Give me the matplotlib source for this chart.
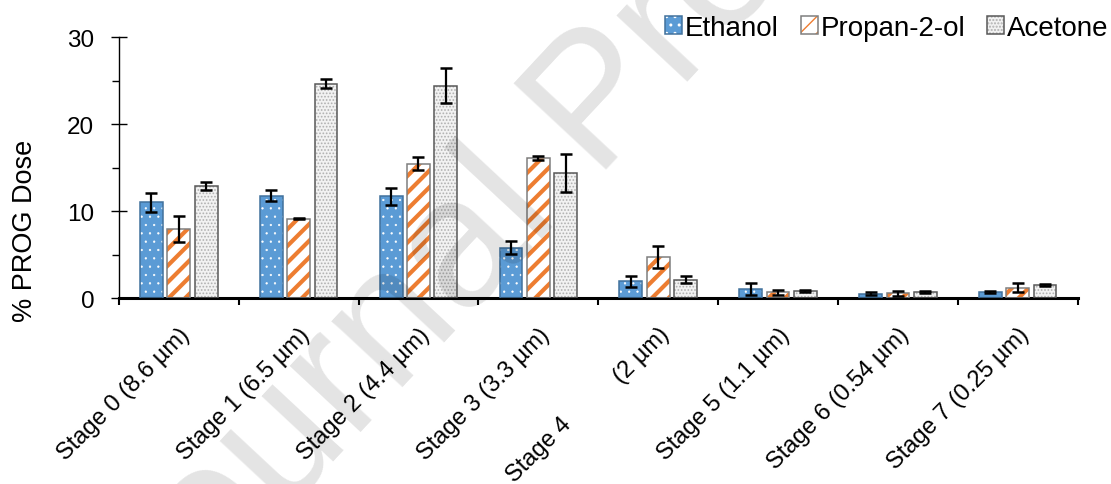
import matplotlib
matplotlib.use("Agg")
import matplotlib.pyplot as plt
import numpy as np

plt.rcParams['font.family'] = ['Liberation Sans', 'DejaVu Sans']

# data
stages = ['Stage 0 (8.6 µm)', 'Stage 1 (6.5 µm)', 'Stage 2 (4.4 µm)', 'Stage 3 (3.3 µm)',
          '(2 µm)', 'Stage 5 (1.1 µm)', 'Stage 6 (0.54 µm)', 'Stage 7 (0.25 µm)']
ethanol = [11.0, 11.75, 11.7, 5.8, 1.9, 1.05, 0.5, 0.7]
ethanol_err = [1.1, 0.65, 1.0, 0.7, 0.65, 0.7, 0.15, 0.1]
propanol = [7.95, 9.1, 15.45, 16.1, 4.7, 0.65, 0.55, 1.2]
propanol_err = [1.5, 0.05, 0.75, 0.2, 1.25, 0.3, 0.3, 0.55]
acetone = [12.85, 24.65, 24.4, 14.4, 2.1, 0.8, 0.72, 1.5]
acetone_err = [0.45, 0.5, 2.0, 2.2, 0.4, 0.1, 0.1, 0.1]

fig = plt.figure(figsize=(11.11, 4.85), dpi=100)
ax = fig.add_axes([0.107, 0.3835, 0.863, 0.538])

x = np.arange(len(stages))
w = 0.19
off = 0.228

series = [
    # label, values, errors, face, hatch, hatch colour, edge, hatch lw
    ('Ethanol', ethanol, ethanol_err, '#5b9bd5', '..', 'white', '#41719c', 0.4),
    ('Propan-2-ol', propanol, propanol_err, 'white', '//', '#ed7d31', '#7f7f7f', 3.0),
    ('Acetone', acetone, acetone_err, '#f2f2f2', '.....', '#b0b0b0', '#595959', 0.8),
]

handles = []
for i, (lab, vals, errs, fc, hatch, hc, ec, hlw) in enumerate(series):
    pos = x + (i - 1) * off
    with plt.rc_context({'hatch.linewidth': hlw}):
        fill = ax.bar(pos, vals, w, color=fc, hatch=hatch, edgecolor=hc, linewidth=0, zorder=2)
    edge = ax.bar(pos, vals, w, fill=False, edgecolor=ec, linewidth=1.1, zorder=3)
    ax.errorbar(pos, vals, yerr=errs, fmt='none', ecolor='black', elinewidth=1.6,
                capsize=4.5, capthick=1.8, zorder=4)
    handles.append((fill.patches[0], edge.patches[0]))

ax.set_xlim(-0.5, len(stages) - 0.5)
ax.set_ylim(0, 30)
ax.set_yticks([0, 10, 20, 30])
ax.set_yticks([5, 15, 25], minor=True)
ax.tick_params(axis='y', which='major', direction='inout', length=11.5, width=1,
               labelsize=17.5, pad=12)
ax.tick_params(axis='y', which='minor', direction='out', length=5, width=1)

# category boundaries as ticks, names centred between them
ax.set_xticks(np.arange(len(stages) + 1) - 0.5)
ax.set_xticklabels([])
ax.set_xticks(x, minor=True)
ax.set_xticklabels(stages, minor=True, rotation=45, ha='right', va='top',
                   rotation_mode='anchor', fontsize=17)
ax.tick_params(axis='x', which='major', direction='out', length=5, width=1.5)
ax.tick_params(axis='x', which='minor', length=0, pad=18)

ax.annotate('Stage 4', xy=(4, 0), xycoords=('data', 'axes fraction'),
            xytext=(-119, -151), textcoords='offset pixels', rotation=45,
            ha='center', va='center', fontsize=17)

for s in ['top', 'right']:
    ax.spines[s].set_visible(False)
ax.spines['bottom'].set_linewidth(2.2)
ax.spines['left'].set_linewidth(1)

ax.set_ylabel('% PROG Dose', fontsize=19.5)
ax.yaxis.set_label_coords(-0.098, 0.26)
ax.yaxis.label.set_va('center')

fig.legend(handles, [s[0] for s in series], loc='center right',
           bbox_to_anchor=(1.0, 1 - 29 / 485), ncol=3, frameon=False, fontsize=20,
           handlelength=0.6, handleheight=0.6, handletextpad=0.1, columnspacing=0.8,
           borderaxespad=0.0, borderpad=0.1)

fig.text(0.54, 0.78, 'Journal Pre-proof', fontsize=132, rotation=47, color='black',
         alpha=0.11, ha='center', va='center', zorder=10)

fig.savefig('out.png', dpi=100)
